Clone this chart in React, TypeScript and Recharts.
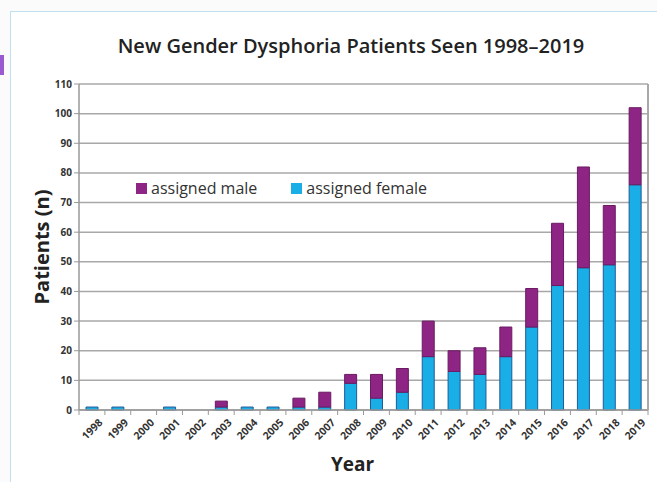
import React from "react";
import {
  Bar, BarChart, CartesianGrid, Label, Legend, XAxis, YAxis,
} from "recharts";

const years = [
  "1998", "1999", "2000", "2001", "2002", "2003", "2004", "2005", "2006", "2007", "2008",
  "2009", "2010", "2011", "2012", "2013", "2014", "2015", "2016", "2017", "2018", "2019",
];
const assignedFemale = [1, 1, 0, 1, 0, 1, 1, 1, 1, 1, 9, 4, 6, 18, 13, 12, 18, 28, 42, 48, 49, 76];
const assignedMale = [0, 0, 0, 0, 0, 2, 0, 0, 3, 5, 3, 8, 8, 12, 7, 9, 10, 13, 21, 34, 20, 26];
const yTicks = [0, 10, 20, 30, 40, 50, 60, 70, 80, 90, 100, 110];

const data = years.map((year, i) => ({
  year,
  female: assignedFemale[i],
  male: assignedMale[i],
}));

const FONT = "'Open Sans', 'Liberation Sans', sans-serif";
const MALE = "#8e2483";
const FEMALE = "#1aaee6";

// half of one category band, used to put tick marks between the years like Excel does
const HALF_BAND = (657 - 49 - 30 - 9) / years.length / 2;

function YearTick(props: any) {
  const { x, y, payload, index } = props;
  const ax = x + 5;
  const ay = y - 1;
  const axisY = y - 8;
  return (
    <g>
      <line x1={x - HALF_BAND} x2={x - HALF_BAND} y1={axisY} y2={axisY + 5} stroke="#999" />
      {index === years.length - 1 && (
        <line x1={x + HALF_BAND} x2={x + HALF_BAND} y1={axisY} y2={axisY + 5} stroke="#999" />
      )}
      <text
        x={ax}
        y={ay}
        transform={`rotate(-45 ${ax} ${ay})`}
        textAnchor="end"
        dominantBaseline="hanging"
        fontSize={10.5}
        fontWeight={700}
        fill="#333"
        fontFamily={FONT}
      >
        {payload.value}
      </text>
    </g>
  );
}

function LegendBox(props: any) {
  const order = ["assigned male", "assigned female"];
  const items = [...(props.payload || [])].sort(
    (a: any, b: any) => order.indexOf(a.value) - order.indexOf(b.value),
  );
  return (
    <div style={{ display: "flex", gap: 34, fontFamily: FONT, fontSize: 16, color: "#333" }}>
      {items.map((it: any) => (
        <div key={it.value} style={{ display: "flex", alignItems: "center" }}>
          <span style={{ width: 11, height: 11, background: it.color, marginRight: 4, display: "inline-block" }} />
          {it.value}
        </div>
      ))}
    </div>
  );
}

export default function App() {
  return (
    <div style={{ position: "absolute", left: 0, top: 0, width: 657, height: 482, background: "#fbfbfb", overflow: "hidden" }}>
      <div style={{ position: "absolute", left: 0, top: 55, width: 4, height: 20, background: "#9a5ad0" }} />
      <div
        style={{
          position: "absolute", left: 10, top: 11, width: 660, height: 480,
          border: "1.5px solid #bfe1ef", background: "#ffffff",
        }}
      />
      <div
        style={{
          position: "absolute", left: 0, top: 32, width: 702, textAlign: "center",
          fontFamily: FONT, fontSize: 20, fontWeight: 600, color: "#222",
        }}
      >
        New Gender Dysphoria Patients Seen 1998–2019
      </div>
      <div style={{ position: "absolute", left: 0, top: 0 }}>
        <BarChart
          width={657}
          height={482}
          data={data}
          margin={{ top: 84, right: 9, bottom: 0, left: 49 }}
          barSize={12}
        >
          <CartesianGrid vertical={false} stroke="#a8a8a8" strokeWidth={1.5} />
          <XAxis
            dataKey="year"
            height={72}
            tick={<YearTick />}
            tickLine={false}
            axisLine={{ stroke: "#999", strokeWidth: 1.5 }}
            interval={0}
          >
            <Label
              value="Year"
              position="insideBottom"
              offset={11}
              dx={-11}
              style={{ fontFamily: FONT, fontSize: 19, fontWeight: 700, fill: "#222" }}
            />
          </XAxis>
          <YAxis
            width={30}
            domain={[0, 110]}
            ticks={yTicks}
            interval={0}
            tickSize={5}
            tickLine={{ stroke: "#999" }}
            axisLine={{ stroke: "#999", strokeWidth: 1.5 }}
            tick={{ fontSize: 10, fontWeight: 700, fill: "#333", fontFamily: FONT }}
          >
            <Label
              value="Patients (n)"
              angle={-90}
              position="left"
              offset={7}
              style={{ fontFamily: FONT, fontSize: 20, fontWeight: 700, fill: "#222", textAnchor: "middle" }}
            />
          </YAxis>
          <Legend
            verticalAlign="middle"
            align="center"
            layout="horizontal"
            content={<LegendBox />}
            wrapperStyle={{ position: "absolute", top: 177, left: 136, width: "auto" }}
          />
          <Bar
            dataKey="female"
            name="assigned female"
            stackId="a"
            fill={FEMALE}
            stroke="#1f5a99"
            strokeWidth={1}
            isAnimationActive={false}
          />
          <Bar
            dataKey="male"
            name="assigned male"
            stackId="a"
            fill={MALE}
            stroke="#6a1c63"
            strokeWidth={1}
            isAnimationActive={false}
          />
        </BarChart>
      </div>
      <div style={{ position: "absolute", left: 647, top: 84, width: 1.5, height: 326, background: "#a8a8a8" }} />
    </div>
  );
}
